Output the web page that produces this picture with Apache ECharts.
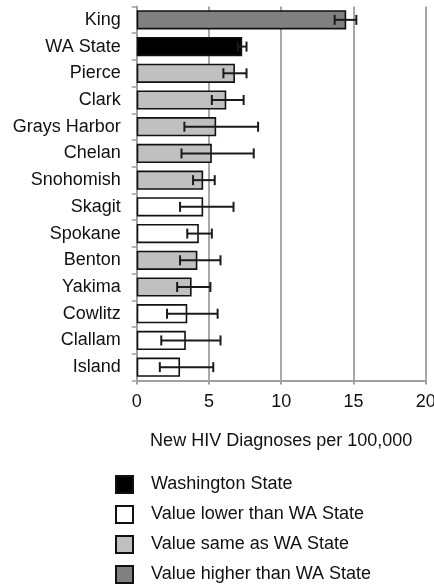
<!DOCTYPE html>
<html>
<head>
<meta charset="utf-8">
<script src="https://cdn.jsdelivr.net/npm/echarts@6/dist/echarts.min.js"></script>
<style>
  html, body { margin: 0; padding: 0; background: #fff; }
  #chart { width: 434px; height: 585px; }
</style>
</head>
<body>
<div id="chart"></div>
<script>
// New HIV diagnoses per 100,000, by county, with 95% confidence intervals
const categories = ['King', 'WA State', 'Pierce', 'Clark', 'Grays Harbor', 'Chelan', 'Snohomish',
  'Skagit', 'Spokane', 'Benton', 'Yakima', 'Cowlitz', 'Clallam', 'Island'];
const rates = [14.5, 7.3, 6.8, 6.2, 5.5, 5.2, 4.6, 4.6, 4.3, 4.2, 3.8, 3.5, 3.4, 3.0];
const ciLow = [13.7, 7.0, 6.0, 5.2, 3.3, 3.1, 3.9, 3.0, 3.5, 3.0, 2.8, 2.1, 1.7, 1.6];
const ciHigh = [15.2, 7.6, 7.6, 7.4, 8.4, 8.1, 5.4, 6.7, 5.2, 5.8, 5.1, 5.6, 5.8, 5.3];
// comparison group of each county against the state rate
const groups = ['higher', 'state', 'same', 'same', 'same', 'same', 'same',
  'lower', 'lower', 'same', 'same', 'lower', 'lower', 'lower'];
const xTicks = [0, 5, 10, 15, 20];

const groupDefs = [
  { key: 'state', name: 'Washington State', color: '#000000' },
  { key: 'lower', name: 'Value lower than WA State', color: '#ffffff' },
  { key: 'same', name: 'Value same as WA State', color: '#c0c0c0' },
  { key: 'higher', name: 'Value higher than WA State', color: '#808080' }
];

const FONT = '"Liberation Sans", Arial, sans-serif';
const FS = 18;

const barSeries = groupDefs.map(g => ({
  name: g.name,
  type: 'bar',
  stack: 'rate',
  barWidth: '72%',
  itemStyle: { color: g.color, borderColor: '#111', borderWidth: 1.6 },
  data: rates.map((v, i) => groups[i] === g.key ? v : '-'),
  emphasis: { disabled: true }
}));

const errorSeries = {
  type: 'custom',
  name: 'ci',
  z: 5,
  silent: true,
  data: categories.map((c, i) => [ciLow[i], ciHigh[i], i]),
  encode: { x: [0, 1], y: 2 },
  renderItem: function (params, api) {
    const lo = api.coord([api.value(0), api.value(2)]);
    const hi = api.coord([api.value(1), api.value(2)]);
    const cap = 5;
    const style = { stroke: '#1a1a1a', lineWidth: 2 };
    return {
      type: 'group',
      children: [
        { type: 'line', shape: { x1: lo[0], y1: lo[1], x2: hi[0], y2: hi[1] }, style },
        { type: 'line', shape: { x1: lo[0], y1: lo[1] - cap, x2: lo[0], y2: lo[1] + cap }, style },
        { type: 'line', shape: { x1: hi[0], y1: hi[1] - cap, x2: hi[0], y2: hi[1] + cap }, style }
      ]
    };
  }
};

const chart = echarts.init(document.getElementById('chart'), null, { renderer: 'canvas' });
chart.setOption({
  animation: false,
  backgroundColor: '#fff',
  textStyle: { fontFamily: FONT },
  grid: { left: 136.7, right: 8.3, top: 6.5, bottom: 204.5, containLabel: false, outerBoundsMode: 'none' },
  xAxis: {
    type: 'value',
    min: xTicks[0],
    max: xTicks[xTicks.length - 1],
    interval: xTicks[1] - xTicks[0],
    name: 'New HIV Diagnoses per 100,000',
    nameLocation: 'middle',
    nameGap: 52,
    nameTextStyle: { fontSize: FS, color: '#111', fontFamily: FONT },
    axisLine: { show: true, lineStyle: { color: '#a0a0a0', width: 2 } },
    axisTick: { show: true, length: 4, lineStyle: { color: '#a0a0a0', width: 2 } },
    axisLabel: { fontSize: FS, color: '#111', margin: 13, fontFamily: FONT },
    splitLine: { show: true, lineStyle: { color: '#a8a8a8', width: 2 } }
  },
  yAxis: {
    type: 'category',
    data: categories,
    inverse: true,
    axisLine: { show: true, lineStyle: { color: '#a0a0a0', width: 2 } },
    axisTick: { show: true, length: 5, lineStyle: { color: '#a0a0a0', width: 1.5 } },
    axisLabel: { fontSize: FS, color: '#111', margin: 16, fontFamily: FONT },
    splitLine: { show: false }
  },
  legend: {
    orient: 'vertical',
    left: 115,
    top: 475,
    width: 315,
    height: 140,
    padding: 0,
    itemWidth: 17,
    itemHeight: 17,
    itemGap: 11,
    icon: 'rect',
    textStyle: { fontSize: FS, lineHeight: 14, color: '#111', padding: [0, 0, 0, 13], fontFamily: FONT },
    data: groupDefs.map(g => ({
      name: g.name,
      itemStyle: { color: g.color, borderColor: '#111', borderWidth: 2 }
    }))
  },
  series: [...barSeries, errorSeries]
});
</script>
</body>
</html>
